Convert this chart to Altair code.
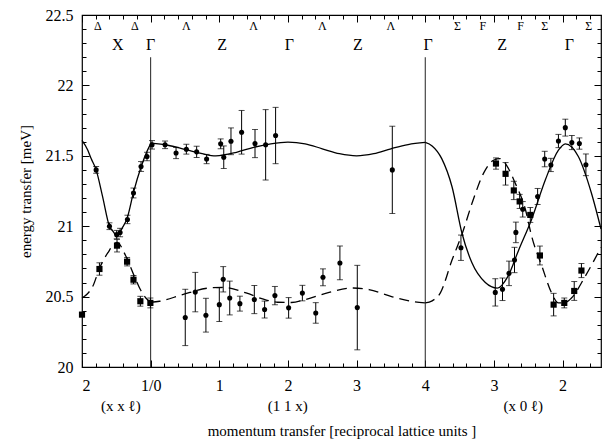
import altair as alt
import pandas as pd

# ---------------- data ----------------
# x positions in "path units": 0 = (2 2 l), 1 = Gamma (1/0), 5 = Gamma (4), 7 = (2 0 l)
major_vals = [0, 1, 2, 3, 4, 5, 6, 7]
major_text = ["2", "1/0", "1", "2", "3", "4", "3", "2"]
group_vals = [0.56, 2.99, 6.42]
group_text = ["(x x \u2113)", "(1 1 x)", "(x 0 \u2113)"]

# measured points drawn as filled circles
circ_u = [0.206, 0.40, 0.505, 0.555, 0.662, 0.75, 0.86, 0.947, 1.02,
          1.21, 1.37, 1.52, 1.67, 1.815, 2.02, 2.065, 2.17, 2.325, 2.52, 2.675, 2.82, 4.52,
          1.504, 1.65, 1.805, 2.0, 2.057, 2.152, 2.30, 2.51, 2.66, 2.81, 3.01, 3.21, 3.405, 3.51, 3.757, 4.01,
          5.52, 6.02, 6.125, 6.22, 6.30, 6.32, 6.42, 6.637, 6.74, 6.83, 6.94, 7.04, 7.135, 7.245, 7.34]
circ_v = [21.40, 21.00, 20.94, 20.955, 21.048, 21.236, 21.424, 21.495, 21.578,
          21.578, 21.52, 21.547, 21.528, 21.477, 21.585, 21.49, 21.603, 21.667, 21.587, 21.578, 21.644, 21.40,
          20.352, 20.532, 20.368, 20.443, 20.623, 20.49, 20.45, 20.479, 20.408, 20.507, 20.42, 20.525, 20.384, 20.637, 20.739, 20.422,
          20.847, 20.53, 20.552, 20.665, 20.76, 20.956, 21.12, 21.211, 21.477, 21.435, 21.605, 21.70, 21.594, 21.587, 21.436]
circ_e = [0.024, 0.024, 0.03, 0.03, 0.03, 0.035, 0.035, 0.03, 0.03,
          0.027, 0.04, 0.035, 0.04, 0.033, 0.035, 0.08, 0.095, 0.155, 0.10, 0.25, 0.20, 0.31,
          0.20, 0.14, 0.12, 0.12, 0.09, 0.12, 0.053, 0.10, 0.06, 0.065, 0.073, 0.055, 0.073, 0.06, 0.12, 0.30,
          0.09, 0.097, 0.08, 0.087, 0.09, 0.073, 0.055, 0.057, 0.055, 0.047, 0.047, 0.06, 0.05, 0.04, 0.077]

# measured points drawn as filled squares
sq_u = [0.0, 0.254, 0.51, 0.657, 0.75, 0.85, 0.996,
        6.03, 6.17, 6.29, 6.375, 6.53, 6.67, 6.87, 7.025, 7.17, 7.275]
sq_v = [20.372, 20.696, 20.862, 20.748, 20.62, 20.467, 20.455,
        21.445, 21.372, 21.254, 21.176, 21.08, 20.792, 20.443, 20.455, 20.54, 20.685]
sq_e = [0.0, 0.044, 0.045, 0.03, 0.03, 0.035, 0.035,
        0.04, 0.08, 0.065, 0.05, 0.053, 0.067, 0.08, 0.035, 0.067, 0.05]

# solid fitted dispersion, three path sections
s1_u = [0.0, 0.085, 0.133, 0.206, 0.30, 0.40, 0.45, 0.51, 0.584, 0.66, 0.75, 0.86, 0.95, 1.0]
s1_v = [21.61, 21.54, 21.48, 21.40, 21.21, 21.00, 20.965, 20.93, 20.985, 21.06, 21.24, 21.42, 21.535, 21.585]
s2_u = [1.0, 1.25, 1.5, 1.75, 1.95, 2.25, 2.5, 2.75, 3.0, 3.25, 3.5, 3.75, 4.0, 4.25, 4.5, 4.75, 5.0]
s2_v = [21.59, 21.575, 21.545, 21.515, 21.50, 21.525, 21.56, 21.585, 21.597, 21.585, 21.55, 21.515,
        21.50, 21.515, 21.55, 21.58, 21.595]
s3_u = [5.0, 5.1, 5.24, 5.39, 5.535, 5.68, 5.875, 6.05, 6.2, 6.36, 6.55, 6.75, 6.94, 7.04, 7.23, 7.42, 7.56]
s3_v = [21.595, 21.57, 21.48, 21.28, 20.95, 20.74, 20.60, 20.56, 20.64, 20.83, 21.05, 21.33, 21.54,
        21.585, 21.495, 21.236, 20.98]

# dashed fitted dispersion, three path sections
d1_u = [0.0, 0.08, 0.157, 0.254, 0.375, 0.51, 0.64, 0.763, 0.85, 0.93, 1.0]
d1_v = [20.49, 20.52, 20.573, 20.70, 20.81, 20.885, 20.786, 20.644, 20.55, 20.49, 20.46]
d2_u = [1.0, 1.13, 1.465, 1.83, 2.05, 2.39, 2.63, 2.85, 3.05, 3.26, 3.6, 3.95, 4.18, 4.52, 4.85, 5.0]
d2_v = [20.46, 20.467, 20.514, 20.56, 20.566, 20.526, 20.484, 20.46, 20.458, 20.48, 20.53, 20.561,
        20.55, 20.498, 20.462, 20.455]
d3_u = [5.0, 5.1, 5.22, 5.39, 5.54, 5.70, 5.85, 6.0, 6.09, 6.2, 6.31, 6.46, 6.55, 6.70, 6.84, 6.94,
        7.05, 7.13, 7.33, 7.56]
d3_v = [20.455, 20.47, 20.526, 20.76, 20.95, 21.19, 21.377, 21.47, 21.48, 21.42, 21.306, 21.117,
        20.928, 20.715, 20.526, 20.455, 20.46, 20.49, 20.644, 20.85]

# symmetry-point labels along the top
row1_text = ["\u0394", "\u0394", "\u039b", "\u039b", "\u039b", "\u039b", "\u03a3", "F", "F", "\u03a3", "\u03a3"]
row1_u = [0.23, 0.77, 1.52, 2.50, 3.50, 4.50, 5.47, 5.84, 6.39, 6.74, 7.38]
row2_text = ["X", "\u0393", "Z", "\u0393", "Z", "\u0393", "Z", "\u0393"]
row2_u = [0.52, 1.0, 2.04, 3.02, 4.02, 5.04, 6.12, 7.1]
row1_v = 22.42
row2_v = 22.287

# zone-boundary vertical lines
vline_u = [1.0, 5.0]
vline_top = 22.2

# ---------------- tables ----------------
def seg(us, vs, name):
    return pd.DataFrame({"u": us, "v": vs, "seg": name})

solid = pd.concat([seg(s1_u, s1_v, "a"), seg(s2_u, s2_v, "b"), seg(s3_u, s3_v, "c")])
dashed = pd.concat([seg(d1_u, d1_v, "a"), seg(d2_u, d2_v, "b"), seg(d3_u, d3_v, "c")])

circ = pd.DataFrame({"u": circ_u, "v": circ_v, "e": circ_e})
sq = pd.DataFrame({"u": sq_u, "v": sq_v, "e": sq_e})
pts = pd.concat([circ, sq])
pts = pts[pts["e"] > 0].copy()
pts["lo"] = pts["v"] - pts["e"]
pts["hi"] = pts["v"] + pts["e"]
caps = pd.concat([pts[["u", "lo"]].rename(columns={"lo": "v"}),
                  pts[["u", "hi"]].rename(columns={"hi": "v"})])

vl = pd.DataFrame({"u": vline_u, "v": [20.0] * len(vline_u), "v2": [vline_top] * len(vline_u)})
lab1 = pd.DataFrame({"u": row1_u, "v": [row1_v] * len(row1_u), "t": row1_text})
lab2 = pd.DataFrame({"u": row2_u, "v": [row2_v] * len(row2_u), "t": row2_text})

FONT = "Liberation Serif"
xs = alt.Scale(domain=[0, 7.56], nice=False, zero=False)
ys = alt.Scale(domain=[20, 22.5], nice=False, zero=False)

minor_x = [round(0.2 * i, 1) for i in range(38)]
minor_y = [round(20 + 0.1 * i, 1) for i in range(26)]
major_y = [20, 20.5, 21, 21.5, 22, 22.5]

label_expr_x = "[" + ",".join("'%s'" % t for t in major_text) + "][round(datum.value)]"
group_expr = ("datum.value < 1.5 ? '%s' : datum.value < 5 ? '%s' : '%s'"
              % tuple(group_text))

ax_common = dict(domain=False, grid=False, tickColor="black", tickWidth=1,
                 labelFont=FONT, titleFont=FONT, labelColor="black", titleColor="black")


def host(xaxis, yaxis):
    return alt.Chart(vl).mark_rule(opacity=0).encode(
        x=alt.X("u:Q", scale=xs, axis=xaxis),
        y=alt.Y("v:Q", scale=ys, axis=yaxis),
    )


axes_layers = [
    # bottom: major ticks + labels
    host(alt.Axis(orient="bottom", values=major_vals, tickSize=7, offset=-7, labelExpr=label_expr_x,
                  labelFontSize=16, labelPadding=10, title=None, **ax_common), None),
    # bottom: minor ticks
    host(alt.Axis(orient="bottom", values=minor_x, tickSize=4, offset=-4, labels=False,
                  title=None, **ax_common), None),
    # bottom: path-direction labels and title
    host(alt.Axis(orient="bottom", values=group_vals, ticks=False, tickSize=0, labelExpr=group_expr,
                  labelFontSize=15, labelPadding=31, title="momentum transfer [reciprocal lattice units ]",
                  titleFontSize=15, titleFontWeight="normal", titlePadding=10, **ax_common), None),
    # top ticks
    host(alt.Axis(orient="top", values=major_vals, tickSize=7, offset=-7, labels=False,
                  title=None, **ax_common), None),
    host(alt.Axis(orient="top", values=minor_x, tickSize=4, offset=-4, labels=False,
                  title=None, **ax_common), None),
    # left: major + labels + title
    host(None, alt.Axis(orient="left", values=major_y, tickSize=7, offset=-7, labelExpr="'' + datum.value",
                        labelFontSize=16, labelPadding=9, title="energy transfer [meV]",
                        titleFontSize=15, titleFontWeight="normal", titlePadding=12, **ax_common)),
    host(None, alt.Axis(orient="left", values=minor_y, tickSize=4, offset=-4, labels=False,
                        title=None, **ax_common)),
    # right ticks
    host(None, alt.Axis(orient="right", values=major_y, tickSize=7, offset=-7, labels=False,
                        title=None, **ax_common)),
    host(None, alt.Axis(orient="right", values=minor_y, tickSize=4, offset=-4, labels=False,
                        title=None, **ax_common)),
]

X = lambda: alt.X("u:Q", scale=xs, axis=None)
Y = lambda f="v": alt.Y(f"{f}:Q", scale=ys, axis=None)

vlines = alt.Chart(vl).mark_rule(color="#222", strokeWidth=1).encode(
    x=X(), y=Y(), y2="v2:Q")

solid_line = alt.Chart(solid).mark_line(color="black", strokeWidth=1.3, interpolate="monotone").encode(
    x=X(), y=Y(), detail="seg:N", order="u:Q")
dashed_line = alt.Chart(dashed).mark_line(color="black", strokeWidth=1.3, interpolate="monotone",
                                          strokeDash=[10, 6]).encode(
    x=X(), y=Y(), detail="seg:N", order="u:Q")

bars = alt.Chart(pts).mark_rule(color="black", strokeWidth=1).encode(
    x=X(), y=Y("lo"), y2="hi:Q")
capmarks = alt.Chart(caps).mark_tick(color="black", orient="horizontal", size=6, thickness=1).encode(
    x=X(), y=Y())

circles = alt.Chart(circ).mark_point(filled=True, shape="circle", size=26, color="black", opacity=1).encode(
    x=X(), y=Y())
squares = alt.Chart(sq).mark_point(filled=True, shape="square", size=38, color="black", opacity=1).encode(
    x=X(), y=Y())

text1 = alt.Chart(lab1).mark_text(font=FONT, fontSize=12, color="black", baseline="middle").encode(
    x=X(), y=Y(), text="t:N")
text2 = alt.Chart(lab2).mark_text(font=FONT, fontSize=16, color="black", baseline="middle").encode(
    x=X(), y=Y(), text="t:N")

chart = alt.layer(
    *axes_layers, vlines, solid_line, dashed_line, bars, capmarks, circles, squares, text1, text2
).resolve_axis(x="independent", y="independent").properties(
    width=519, height=352,
    autosize=alt.AutoSizeParams(type="none"),
    padding={"left": 82, "top": 15, "right": 9, "bottom": 78},
    background="white",
).configure_view(stroke="black", strokeWidth=1.2)

chart.save("out.html", embed_options={"renderer": "svg", "actions": False})
